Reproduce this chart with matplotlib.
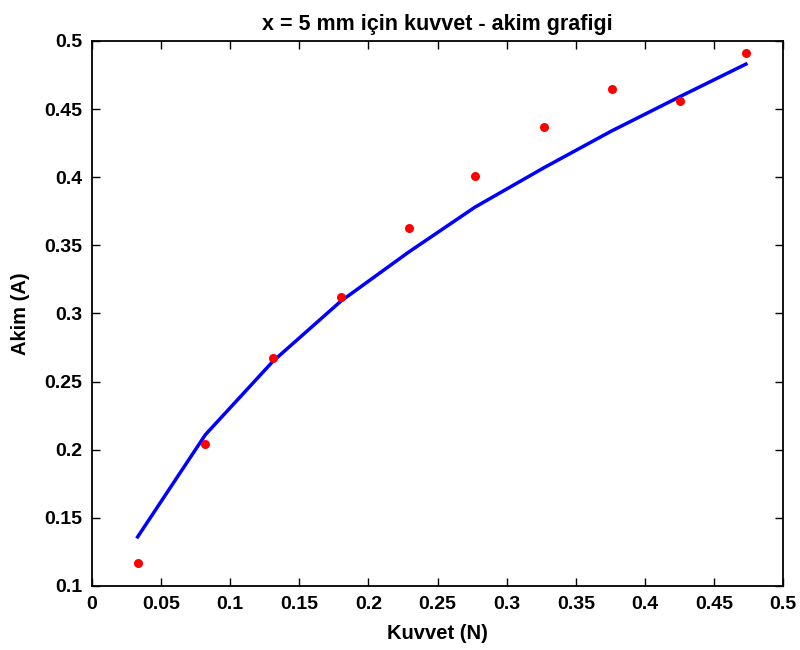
import matplotlib
matplotlib.use('Agg')
import matplotlib.pyplot as plt

# olculen noktalar
kuvvet = [0.033, 0.082, 0.131, 0.180, 0.229, 0.277, 0.327, 0.376, 0.425, 0.473]
akim_olcum = [0.117, 0.204, 0.267, 0.312, 0.363, 0.401, 0.437, 0.465, 0.456, 0.491]
# uydurulan egri
akim_fit = [0.136, 0.211, 0.265, 0.309, 0.345, 0.378, 0.407, 0.434, 0.459, 0.483]

xticks = [0, 0.05, 0.1, 0.15, 0.2, 0.25, 0.3, 0.35, 0.4, 0.45, 0.5]
xticklabels = ['0', '0.05', '0.1', '0.15', '0.2', '0.25', '0.3', '0.35', '0.4', '0.45', '0.5']
yticks = [0.1, 0.15, 0.2, 0.25, 0.3, 0.35, 0.4, 0.45, 0.5]
yticklabels = ['0.1', '0.15', '0.2', '0.25', '0.3', '0.35', '0.4', '0.45', '0.5']

plt.rcParams['font.family'] = ['Liberation Sans', 'DejaVu Sans']
plt.rcParams['font.weight'] = 'bold'

fig = plt.figure(figsize=(8, 6.5), dpi=100)
ax = fig.add_axes([0.115, 0.0985, 0.864, 0.8385])

ax.plot(kuvvet, akim_fit, color='#0000ff', lw=2.5)
ax.plot(kuvvet, akim_olcum, 'o', color='#ff0000', ms=6.5, mec='none')

ax.set_xlim(0, 0.5)
ax.set_ylim(0.1, 0.5)
ax.set_xticks(xticks)
ax.set_xticklabels(xticklabels)
ax.set_yticks(yticks)
ax.set_yticklabels(yticklabels)
ax.tick_params(direction='in', length=6, width=1, labelsize=14, pad=7,
               top=True, right=True)
for s in ax.spines.values():
    s.set_linewidth(1.3)

ax.set_xlabel('Kuvvet (N)', fontsize=14.5, fontweight='bold', labelpad=8)
ax.set_ylabel('Akim (A)', fontsize=14.5, fontweight='bold', labelpad=10)
ax.set_title('x = 5 mm için kuvvet - akim grafigi', fontsize=15.5,
             fontweight='bold', pad=8)

fig.savefig('out.png', dpi=100)
